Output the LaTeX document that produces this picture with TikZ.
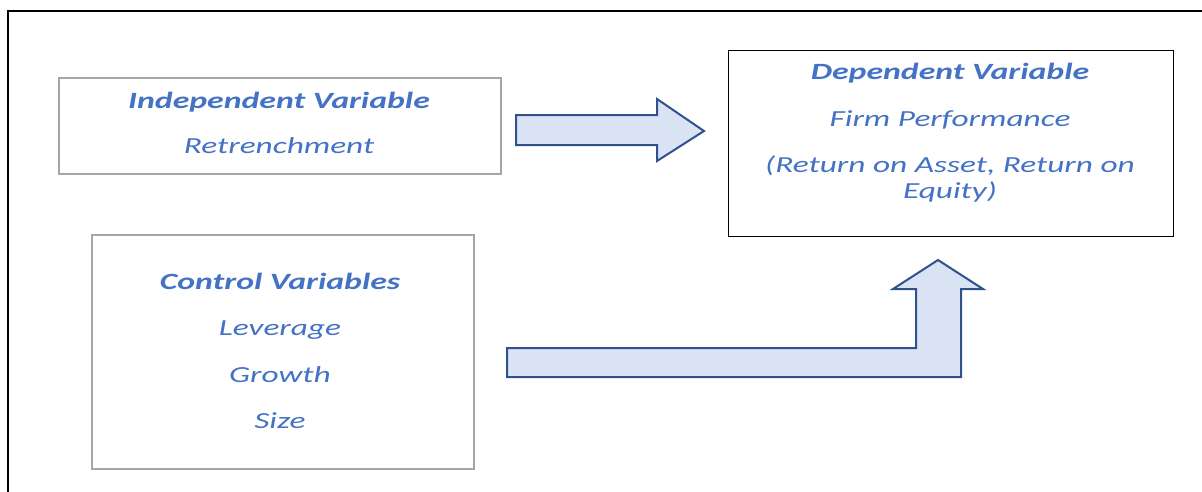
\documentclass[tikz,border=0pt]{standalone}
\usepackage{fontspec}
\newfontfamily\diagfont[FakeStretch=1.45]{Carlito}
\definecolor{labelblue}{HTML}{4472C4}
\definecolor{arrowfill}{HTML}{DAE3F3}
\definecolor{arrowline}{HTML}{2F528F}
\definecolor{boxgray}{HTML}{A6A6A6}
\tikzset{
  varbox/.style={draw, rectangle, inner sep=0pt},
  title/.style={anchor=base, text=labelblue, inner sep=0pt, font=\diagfont\fontsize{23.3}{26}\selectfont\bfseries\itshape},
  item/.style={anchor=base, text=labelblue, inner sep=0pt, font=\diagfont\fontsize{23}{26}\selectfont\itshape},
  blockarrow/.style={draw=arrowline, fill=arrowfill, line width=2pt, line join=miter}
}
\begin{document}
\begin{tikzpicture}[x=1pt, y=-1pt]
  \useasboundingbox (0,0) rectangle (1202,491);
  \fill[white] (0,0) rectangle (1202,491);
  % page frame, running off the right and bottom edges
  \begin{scope}
    \clip (0,0) rectangle (1202,491);
    \draw[line width=2pt] (8,11) rectangle (1220,510);
  \end{scope}

  % variable boxes
  \node[varbox, draw=boxgray, line width=1.2pt, minimum width=442pt, minimum height=96pt]
    (indep) at (280,126) {};
  \node[varbox, draw=black, line width=1pt, minimum width=445pt, minimum height=186pt]
    (dep) at (950.5,143) {};
  \node[varbox, draw=boxgray, line width=2pt, minimum width=382pt, minimum height=234pt]
    (ctrl) at (283,352) {};

  % box texts
  \node[title] (indepT) at (279,108) {Independent Variable};
  \node[item]  (indepA) at (279,153) {Retrenchment};

  \node[title] (depT) at (950,79) {Dependent Variable};
  \node[item]  (depA) at (950,126) {Firm Performance};
  \node[item]  (depB) at (950,172) {(Return on Asset, Return on};
  \node[item]  (depC) at (950,198) {Equity)};

  \node[title] (ctrlT) at (280,289) {Control Variables};
  \node[item]  (ctrlA) at (280,335) {Leverage};
  \node[item]  (ctrlB) at (280,382) {Growth};
  \node[item]  (ctrlC) at (280,428) {Size};

  % straight block arrow: independent -> dependent
  \draw[blockarrow] (516,115) -- (657,115) -- (657,99) -- (704,131)
    -- (657,161) -- (657,145) -- (516,145) -- cycle;

  % bent block arrow: controls -> dependent
  \draw[blockarrow] (507,348) -- (916,348) -- (916,289) -- (893,289)
    -- (938,260) -- (983,289) -- (961,289) -- (961,377) -- (507,377) -- cycle;
\end{tikzpicture}
\end{document}
